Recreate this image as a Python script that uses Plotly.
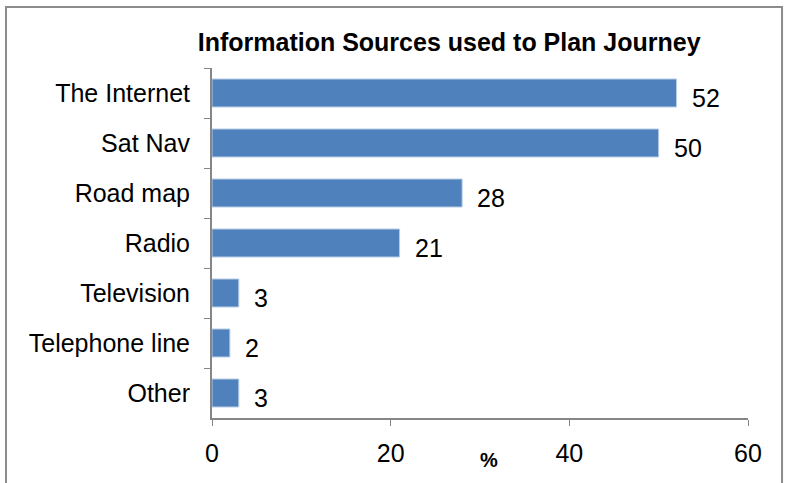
import plotly.graph_objects as go

categories = ["The Internet", "Sat Nav", "Road map", "Radio", "Television", "Telephone line", "Other"]
values = [52, 50, 28, 21, 3, 2, 3]
x_ticks = [0, 20, 40, 60]
title_text = "Information Sources used to Plan Journey"
x_title = "%"

FONT = "Liberation Sans, Arial, sans-serif"
BAR = "#4F81BD"
AXIS = "#868686"

fig = go.Figure()
fig.add_trace(go.Bar(
    x=values, y=categories, orientation="h",
    marker=dict(color=BAR, line=dict(color="#B9CDE5", width=1)),
    hoverinfo="x+y",
))

for c, v in zip(categories, values):
    fig.add_annotation(
        x=v, y=c, xref="x", yref="y", text=str(v), showarrow=False,
        xanchor="left", yanchor="middle", xshift=13, yshift=-5,
        font=dict(family=FONT, size=25, color="#000000"),
    )

fig.add_annotation(
    x=31, y=-0.12, xref="x", yref="paper", text="<b>%s</b>" % x_title,
    showarrow=False, xanchor="center", yanchor="middle",
    font=dict(family=FONT, size=20, color="#000000"),
)

# outer chart border
fig.add_shape(type="rect", xref="paper", yref="paper",
              x0=-0.3843, x1=1.0635, y0=-0.25, y1=1.1743,
              line=dict(color="#8c8c8c", width=2), fillcolor="rgba(0,0,0,0)", layer="below")

fig.update_layout(
    width=788, height=483,
    margin=dict(l=212, r=40, t=68, b=65),
    paper_bgcolor="white", plot_bgcolor="white",
    bargap=0.44,
    showlegend=False,
    font=dict(family=FONT, size=25, color="#000000"),
    title=dict(text="<b>%s</b>" % title_text, xref="container", yref="container",
               x=0.57, y=1 - 42 / 483, xanchor="center", yanchor="middle",
               font=dict(family=FONT, size=25, color="#000000")),
    xaxis=dict(range=[0, 60], tickvals=x_ticks, ticks="outside", ticklen=6,
               tickcolor=AXIS, showline=True, linecolor=AXIS, linewidth=2,
               showgrid=False, zeroline=False, ticklabelstandoff=6,
               tickfont=dict(family=FONT, size=25, color="#000000")),
    yaxis=dict(categoryorder="array", categoryarray=categories, autorange="reversed",
               ticks="outside", ticklen=6, tickcolor=AXIS, tickson="boundaries",
               showline=True, linecolor=AXIS, linewidth=2, showgrid=False,
               ticklabelstandoff=15,
               tickfont=dict(family=FONT, size=25, color="#000000")),
)

fig.write_html("out.html")
